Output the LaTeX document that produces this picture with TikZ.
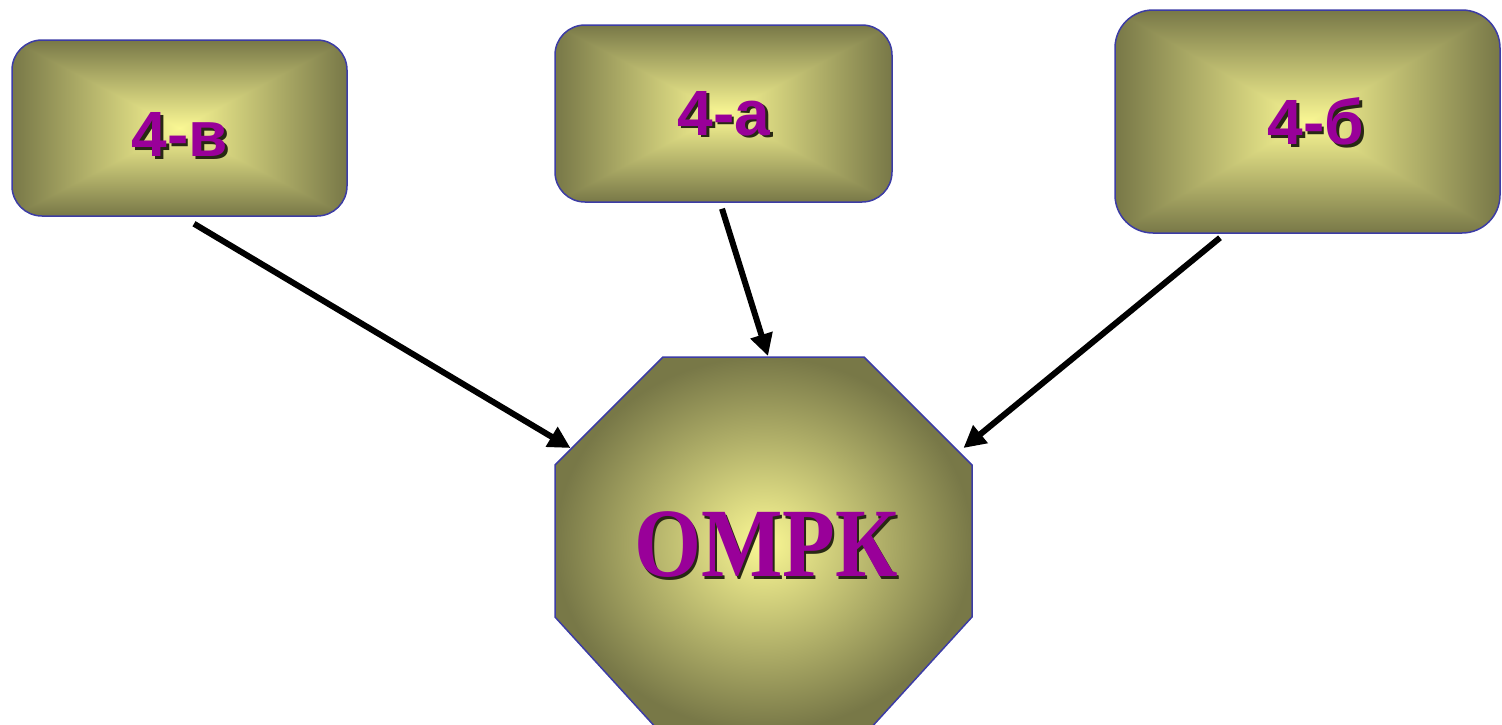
\documentclass[tikz,border=0pt]{standalone}
\usepackage{fontspec}
\usetikzlibrary{arrows.meta,calc}
\newfontfamily\boxfont{Liberation Sans}
\newfontfamily\bigfont{Liberation Serif}
\definecolor{txtpurple}{RGB}{153,0,153}
\definecolor{edgeblue}{RGB}{60,60,165}
\definecolor{shadowc}{RGB}{40,40,20}
\pgfdeclarefunctionalshading{rectglow}{\pgfpoint{-50bp}{-50bp}}{\pgfpoint{50bp}{50bp}}{}{
abs exch abs 2 copy lt {exch} if pop 25 div dup 1 gt {pop 1} if
dup 0.51 mul 0.98 exch sub exch
dup 0.50 mul 0.97 exch sub exch
0.30 mul 0.58 exch sub
}
\pgfdeclarefunctionalshading{roundglow}{\pgfpoint{-50bp}{-50bp}}{\pgfpoint{50bp}{50bp}}{}{
dup mul exch dup mul add sqrt 25 div dup 1 gt {pop 1} if
dup 0.51 mul 0.98 exch sub exch
dup 0.50 mul 0.97 exch sub exch
0.30 mul 0.58 exch sub
}
\newcommand\shtext[1]{\makebox[0pt][l]{\hspace*{2.5pt}\raisebox{-2.5pt}{\textcolor{shadowc}{#1}}}\textcolor{txtpurple}{#1}}
\begin{document}
\begin{tikzpicture}[x=1pt,y=-1pt,
  glowbox/.style={shade, shading=rectglow, draw=edgeblue, line width=1.5pt, inner sep=0pt},
  boxlabel/.style={font=\boxfont\bfseries\fontsize{64}{64}\selectfont, inner sep=0pt},
  conn/.style={line width=6pt, -{Triangle[length=22pt,width=22pt]}}
]
\useasboundingbox (0,0) rectangle (1502,724);
% boxes
\node[glowbox, rounded corners=30pt, minimum width=335pt, minimum height=176pt] (b1) at (179.5,128) {};
\node[glowbox, rounded corners=30pt, minimum width=337pt, minimum height=177pt] (b2) at (723.5,113.5) {};
\node[glowbox, rounded corners=38pt, minimum width=385pt, minimum height=223pt] (b3) at (1307.5,121.5) {};
\node[boxlabel] (t1) at (180,136) {\shtext{4-в}};
\node[boxlabel] (t2) at (724,115) {\shtext{4-а}};
\node[boxlabel] (t3) at (1316,123) {\shtext{4-б}};
% octagon
\shade[shading=roundglow, draw=edgeblue, line width=1.5pt]
  (663,357) -- (864,357) -- (972,465) -- (972,617) -- (869,730) -- (658,730) -- (555,617) -- (555,465) -- cycle;
\node[inner sep=0pt] (oct) at (763.5,541) {};
\node[inner sep=0pt, xscale=0.88, font=\bigfont\bfseries\fontsize{98}{98}\selectfont] (omrk) at (766,546) {\shtext{ОМРК}};
% connector ends
\coordinate (s1) at ($(b1.south)+(14.5,7)$);
\coordinate (e1) at ($(oct)+(-193,-93)$);
\coordinate (s2) at ($(b2.south)+(-1.5,6)$);
\coordinate (e2) at ($(oct)+(4.5,-185)$);
\coordinate (s3) at ($(b3.south)+(-87.5,4)$);
\coordinate (e3) at ($(oct)+(200,-93)$);
\draw[conn] (s1) -- (e1);
\draw[conn] (s2) -- (e2);
\draw[conn] (s3) -- (e3);
\end{tikzpicture}
\end{document}
